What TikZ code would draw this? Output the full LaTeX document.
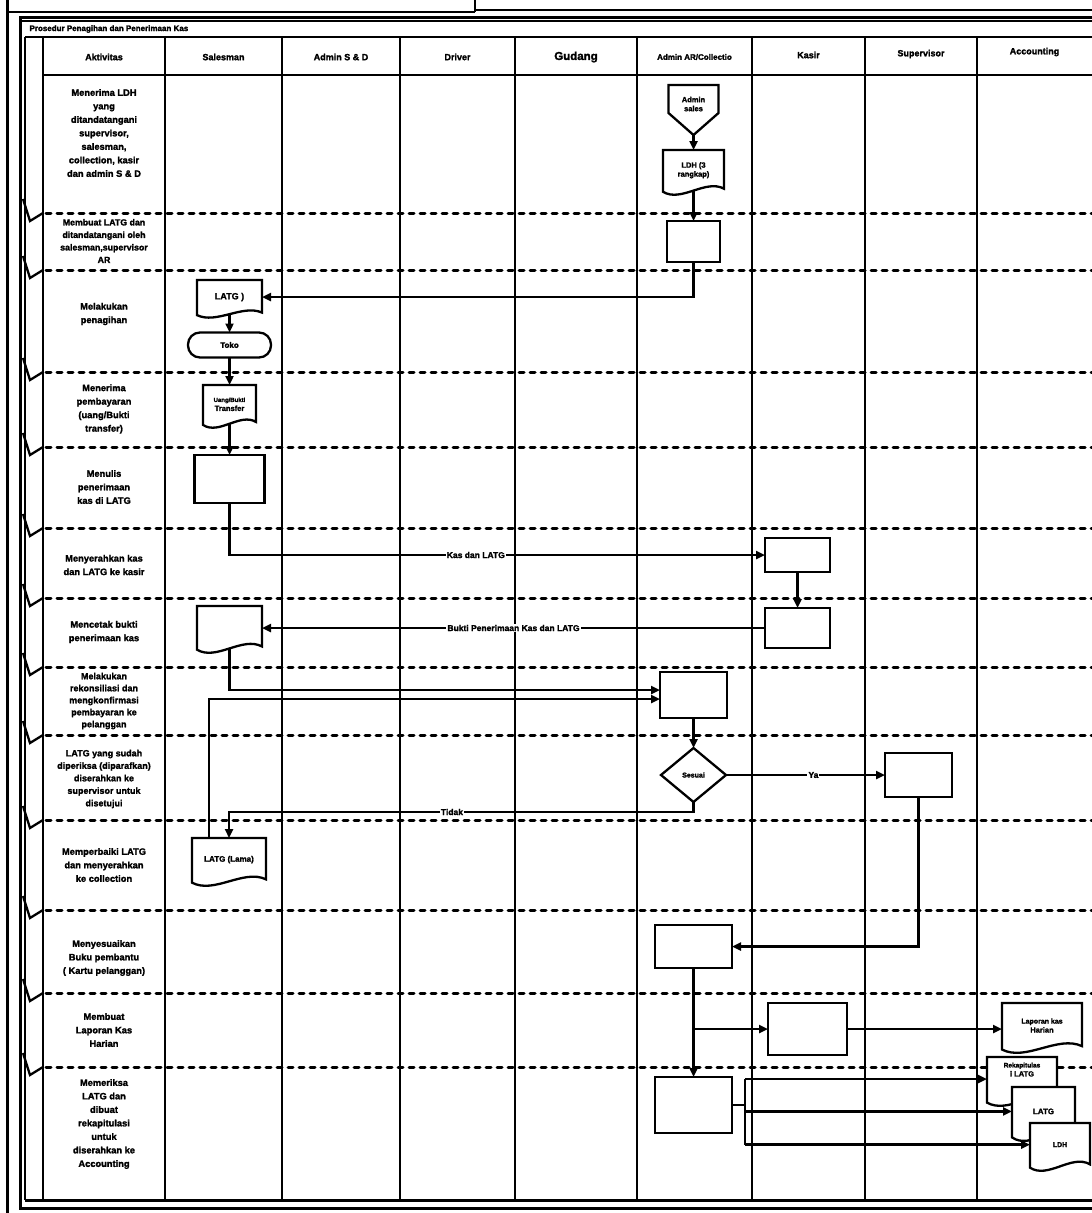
\documentclass[tikz,border=0pt]{standalone}
\usepackage{fontspec}
\setmainfont{Liberation Sans}[BoldFeatures={FakeBold=1.8}]
\usetikzlibrary{arrows.meta,shapes.geometric,calc}

\newcommand\docshape[6]{%
  \pgfmathsetmacro\rsW{#4-#2}\pgfmathsetmacro\rsH{#5-#3}\pgfmathsetmacro\rsHH{0.92*(#5-#3)}%
  \path[shp] (#2,#3) -- (#4,#3) -- (#4,{#5-0.12*\rsH}) .. controls ({#4-0.3*\rsW},{#5-0.35*\rsH}) and ({#2+0.3*\rsW},{#5+0.2*\rsH}) .. (#2,{#5-0.05*\rsH}) -- cycle;
  \node[intext, outer sep=0pt, minimum width=\rsW pt, minimum height=\rsHH pt, anchor=north] (#1) at ({(#2+#4)/2},#3) {#6};}
\newcommand\procb[5]{%
  \pgfmathsetmacro\rsW{#4-#2}\pgfmathsetmacro\rsH{#5-#3}%
  \node[procbox, minimum width=\rsW pt, minimum height=\rsH pt, anchor=north west] (#1) at (#2,#3) {};}

\begin{document}
\begin{tikzpicture}[x=1pt,y=-1pt,
  lane/.style={line width=2.5pt},
  rowline/.style={line width=3pt, dash pattern=on 5pt off 6pt, line cap=round},
  frm/.style={line width=3pt},
  conn/.style={line width=2.3pt},
  arr/.style={conn, -{Triangle[length=9pt,width=8pt]}},
  procbox/.style={draw, line width=2.5pt, fill=white, rectangle, inner sep=0pt, outer sep=0pt},
  shp/.style={draw, line width=2.3pt, fill=white},
  act/.style={align=center, inner sep=0pt, font=\fontsize{9.3}{13.5}\selectfont\bfseries},
  hdr/.style={font=\fontsize{9}{11}\selectfont\bfseries},
  lbl/.style={fill=white, inner sep=1pt, font=\fontsize{8.5}{10}\selectfont\bfseries},
  intext/.style={align=center, inner sep=0pt, font=\fontsize{7.5}{9}\selectfont\bfseries},
]
\useasboundingbox (0,0) rectangle (1092,1213);
\fill[white] (0,0) rectangle (1092,1213);

% frame
\draw[frm] (7,0) -- (7,1213);
\draw[line width=2pt] (7,12) -- (475,12);
\draw[line width=2pt] (475,0) -- (475,12);
\draw[line width=2pt] (475,10) -- (1092,10);
\draw[frm] (1092,17) -- (20,17) -- (20,1208) -- (1092,1208);
\draw[line width=1.5pt] (20,21) -- (1092,21);
\draw[frm] (25,1200) -- (1092,1200);
\draw[lane] (25,37) -- (1092,37);
\draw[lane] (25,37) -- (25,1200);
\draw[lane] (43,75) -- (1092,75);
\foreach \x in {43,165,282,400,515,637,752,865,977} \draw[lane] (\x,37) -- (\x,1200);
\node[anchor=west, font=\fontsize{8}{10}\selectfont\bfseries] (title) at (26,29) {Prosedur Penagihan dan Penerimaan Kas};

% headers
\node[hdr] (h1) at (104,57) {Aktivitas};
\node[hdr] (h2) at (223.5,57) {Salesman};
\node[hdr] (h3) at (341,57) {Admin S \& D};
\node[hdr] (h4) at (457.5,57) {Driver};
\node[font=\fontsize{11.5}{13}\selectfont\bfseries] (h5) at (576,57) {Gudang};
\node[font=\fontsize{8}{10}\selectfont\bfseries] (h6) at (694.5,57) {Admin AR/Collectio};
\node[hdr] (h7) at (808.5,55) {Kasir};
\node[hdr] (h8) at (921,54) {Supervisor};
\node[hdr] (h9) at (1034.5,52) {Accounting};

% row separators
\foreach \y in {213,270,372,447,528,598,667,735,820,910,993,1067} {
  \draw[rowline] (46,\y) -- (1092,\y);
  \draw[conn] (23,{\y-14}) -- (30,{\y+8}) -- (43,\y);
}

% activities
\node[act] (a1) at (104,133) {Menerima LDH\\yang\\ditandatangani\\supervisor,\\salesman,\\collection, kasir\\dan admin S \& D};
\node[act, font=\fontsize{8.8}{12.5}\selectfont\bfseries] (a2) at (104,241) {Membuat LATG dan\\ditandatangani oleh\\salesman,supervisor\\AR};
\node[act] (a3t) at (104,314) {Melakukan\\penagihan};
\node[act] (a4t) at (104,409) {Menerima\\pembayaran\\(uang/Bukti\\transfer)};
\node[act] (a5t) at (104,487) {Menulis\\penerimaan\\kas di LATG};
\node[act] (a6t) at (104,565) {Menyerahkan kas\\dan LATG ke kasir};
\node[act] (a7t) at (104,632) {Mencetak bukti\\penerimaan kas};
\node[act, font=\fontsize{9}{12}\selectfont\bfseries] (a8t) at (104,701) {Melakukan\\rekonsiliasi dan\\mengkonfirmasi\\pembayaran ke\\pelanggan};
\node[act, font=\fontsize{9}{12.5}\selectfont\bfseries] (a9t) at (104,779) {LATG yang sudah\\diperiksa (diparafkan)\\diserahkan ke\\supervisor untuk\\disetujui};
\node[act] (a10t) at (104,865) {Memperbaiki LATG\\dan menyerahkan\\ke collection};
\node[act] (a11t) at (104,958) {Menyesuaikan\\Buku pembantu\\( Kartu pelanggan)};
\node[act] (a12t) at (104,1030) {Membuat\\Laporan Kas\\Harian};
\node[act] (a13t) at (104,1124) {Memeriksa\\LATG dan\\dibuat\\rekapitulasi\\untuk\\diserahkan ke\\Accounting};

% shapes
\path[shp] (668.5,85) -- (718.5,85) -- (718.5,113) -- (693.5,135) -- (668.5,113) -- cycle;
\node[intext, outer sep=0pt, minimum width=50pt, minimum height=50pt, anchor=north, text depth=12pt] (adms) at (693.5,85) {Admin\\sales};
\docshape{ldh}{663}{150}{724}{194}{LDH (3\\rangkap)}
\procb{b1}{667}{221}{720}{262}
\docshape{latga}{197}{280}{262}{317}{\fontsize{9}{10}\selectfont LATG )}
\node[shp, rounded corners=12pt, minimum width=83pt, minimum height=25pt, outer sep=0pt, intext, font=\fontsize{8}{9}\selectfont\bfseries] (toko) at (229.5,345) {Toko};
\docshape{uang}{203}{385}{256}{427}{\fontsize{6}{7}\selectfont Uang/Bukti\\Transfer}
\procb{b2}{194.5}{455}{264.5}{503}
\procb{k1}{765}{538}{830}{572}
\procb{k2}{765}{608}{830}{648}
\docshape{sdoc}{197}{606}{262}{652}{}
\procb{a3}{660}{672}{727}{718}
\node[shp, diamond, minimum width=65pt, minimum height=54pt, inner sep=0pt, outer sep=0pt, intext, font=\fontsize{7}{8}\selectfont\bfseries] (dia) at (693.5,775) {Sesuai};
\procb{sv}{885}{753}{952}{797}
\docshape{latgl}{192}{838}{266}{885}{\fontsize{8}{9}\selectfont LATG (Lama)}
\procb{a4}{655}{925}{732}{968}
\procb{k3}{768}{1003}{847}{1055}
\docshape{lkh}{1002}{1003}{1082}{1052}{\fontsize{7}{8.5}\selectfont Laporan kas\\Harian}
\procb{a5}{655}{1077}{732}{1133}
\docshape{rek}{987}{1057}{1057}{1105}{\fontsize{6.5}{8}\selectfont Rekapitulas\\i LATG\\[10pt]}
\docshape{ltb}{1012}{1087}{1075}{1140}{\fontsize{8}{9}\selectfont LATG}
\docshape{ldhb}{1030}{1123}{1090}{1170}{\fontsize{7}{8}\selectfont LDH}

% connectors
\draw[arr] (adms.south) -- (ldh.north);
\draw[arr] (ldh.south) -- (b1.north);
\draw[arr] (b1.south) |- (latga.east);
\draw[arr] (latga.south) -- (toko.north);
\draw[arr] (toko.south) -- (uang.north);
\draw[arr] (uang.south) -- (b2.north);
\draw[arr] (b2.south) |- node[lbl, pos=0.73] {Kas dan LATG} (k1.west);
\draw[arr] (k1.south) -- (k2.north);
\draw[arr] (k2.west) -- node[lbl, pos=0.5] {Bukti Penerimaan Kas dan LATG} (k2.west -| sdoc.east);
\draw[arr] (sdoc.south) |- ([yshift=5pt]a3.west);
\draw[arr] ([xshift=-20pt]latgl.north) |- ([yshift=-4pt]a3.west);
\draw[arr] (a3.south) -- (dia.north);
\draw[arr] (dia.east) -- node[lbl, pos=0.55] {Ya} (dia.east -| sv.west);
\coordinate (tk) at ($(dia.south)+(0,10)$);
\draw[arr] (dia.south) -- (tk) -| node[lbl, pos=0.26] {Tidak} (latgl.north);
\draw[arr] (sv.south) |- (a4.east);
\draw[arr] (a4.south) -- (a5.north);
\draw[arr] (a4.south |- k3.west) -- (k3.west);
\draw[arr] (k3.east) -- (k3.east -| lkh.west);
\coordinate (sp) at (745,1105);
\draw[conn] (a5.east) -- (sp);
\draw[conn] (sp |- rek.west) -- (sp |- ldhb.west);
\draw[arr] (sp |- rek.west) -- (rek.west);
\draw[arr] (sp |- ltb.west) -- (ltb.west);
\draw[arr] (sp |- ldhb.west) -- (ldhb.west);
\end{tikzpicture}
\end{document}
